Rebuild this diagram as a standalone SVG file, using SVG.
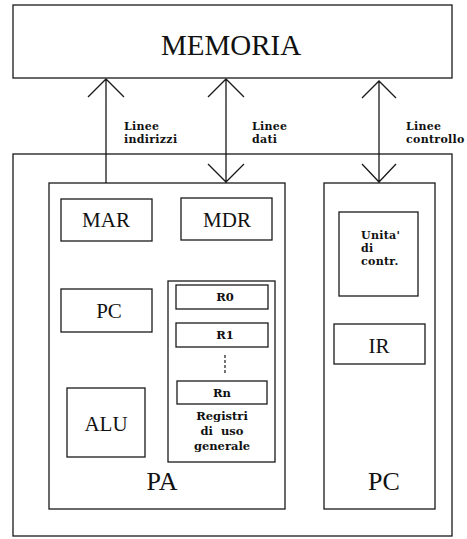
<svg xmlns="http://www.w3.org/2000/svg" width="467" height="539" viewBox="0 0 467 539">
<style>
rect{fill:none;stroke:#1a1a1a;stroke-width:1.3}
.c{fill:none;stroke:#1a1a1a;stroke-width:1.3}
.big{font-family:"Liberation Serif",serif;fill:#111;text-anchor:middle}
.sm{font-family:"DejaVu Serif",serif;font-weight:bold;font-size:11px;letter-spacing:0.3px;fill:#111}
.smc{font-family:"DejaVu Serif",serif;font-weight:bold;font-size:11.5px;fill:#111;text-anchor:middle}
</style>
<rect width="467" height="539" style="fill:#fff;stroke:none"/>
<g id="memoria"><rect x="13" y="5" width="439" height="73"/><text class="big" x="231" y="55" font-size="29">MEMORIA</text></g>
<g id="sistema"><rect x="13" y="154" width="439" height="382"/></g>
<g id="pa"><rect x="49" y="183" width="236" height="326"/><text class="big" x="162" y="490" font-size="26">PA</text></g>
<g id="mar"><rect x="61" y="199" width="91" height="42"/><text class="big" x="106" y="227" font-size="21">MAR</text></g>
<g id="mdr"><rect x="181" y="198" width="91" height="42"/><text class="big" x="227" y="227" font-size="21">MDR</text></g>
<g id="pc-reg"><rect x="61" y="289" width="91" height="43"/><text class="big" x="109" y="318" font-size="21">PC</text></g>
<g id="alu"><rect x="67" y="388" width="78" height="69"/><text class="big" x="106" y="431" font-size="21">ALU</text></g>
<g id="registri"><rect x="168" y="281" width="107" height="181"/>
<text class="smc" x="222" y="420">Registri</text><text class="smc" x="222" y="435" xml:space="preserve">di  uso</text><text class="smc" x="222" y="450">generale</text></g>
<g id="r0"><rect x="176" y="285" width="92" height="24"/><text class="smc" x="225" y="301">R0</text></g>
<g id="r1"><rect x="176" y="323" width="92" height="24"/><text class="smc" x="225" y="339">R1</text></g>
<g id="dots"><line x1="225" y1="355" x2="225" y2="374" stroke="#1a1a1a" stroke-width="1.2" stroke-dasharray="3,2"/></g>
<g id="rn"><rect x="177" y="381" width="90" height="23"/><text class="smc" x="222" y="397">Rn</text></g>
<g id="pc"><rect x="324" y="183" width="111" height="326"/><text class="big" x="384" y="490" font-size="26">PC</text></g>
<g id="unita"><rect x="339" y="212" width="79" height="84"/>
<text class="sm" x="361" y="239">Unita'</text><text class="sm" x="361" y="252">di</text><text class="sm" x="361" y="265">contr.</text></g>
<g id="ir"><rect x="334" y="324" width="91" height="40"/><text class="big" x="379" y="353" font-size="21">IR</text></g>
<g id="connectors">
<path class="c" d="M106 183V79M88 97L106 79L124 97"/>
<path class="c" d="M226 183V79M208 97L226 79L244 97M208 164L226 182L244 164"/>
<path class="c" d="M379 183V81M362 98L379 81L396 98M362 164L379 182L396 164"/>
</g>
<g id="labels">
<text class="sm" x="124" y="130">Linee</text><text class="sm" x="124" y="143">indirizzi</text>
<text class="sm" x="252" y="130">Linee</text><text class="sm" x="252" y="143">dati</text>
<text class="sm" x="406" y="130">Linee</text><text class="sm" x="406" y="143">controllo</text>
</g>
</svg>
